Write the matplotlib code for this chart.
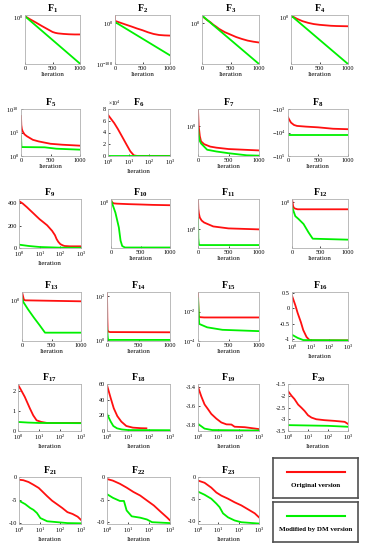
import matplotlib.pyplot as plt
import numpy as np

plt.rcParams['font.family'] = 'Liberation Serif'
plt.rcParams['mathtext.fontset'] = 'custom'
plt.rcParams['mathtext.rm'] = 'Liberation Serif'
plt.rcParams['mathtext.bf'] = 'Liberation Serif:bold'
plt.rcParams['mathtext.it'] = 'Liberation Serif:italic'

RED = '#ff1010'
GREEN = '#00f000'

# ---- data -----------------------------------------------------------------
# log-y panels: values are log10 of the fitness
f1_xr = [0, 100, 200, 300, 400, 500, 550, 600, 700, 800, 900, 1000]
f1_r = [3, -15, -32, -50, -67, -84, -89, -92, -95, -97, -98, -98]
f1_xg = [0, 1000]
f1_g = [3, -260]

f2_xr = [0, 0, 5, 100, 200, 300, 400, 500, 600, 650, 700, 800, 900, 1000]
f2_r = [19, 4.7, 4.5, 0.1, -4.5, -9, -13.8, -18, -23, -25, -27, -29.5, -30.5, -31]
f2_xg = [0, 1000]
f2_g = [2, -79]

f3_xr = [0, 50, 100, 150, 200, 250, 300, 400, 500, 600, 700, 800, 900, 1000]
f3_r = [27, 18, 10, 3, -6, -13, -21, -33, -42, -51, -58, -64, -68, -71]
f3_xg = [0, 1000]
f3_g = [28, -150]

f4_xr = [0, 100, 200, 300, 400, 500, 600, 700, 800, 1000]
f4_r = [8, -5, -15, -22, -27, -30, -32, -34, -35, -36]
f4_xg = [0, 1000]
f4_g = [8, -190]

f5_xr = [0, 5, 15, 30, 60, 100, 200, 300, 500, 700, 1000]
f5_r = [8.5, 6.6, 5.7, 5.2, 4.6, 4.2, 3.45, 3.1, 2.6, 2.4, 2.2]
f5_xg = [0, 8, 400, 500, 600, 1000]
f5_g = [4.2, 1.9, 1.85, 1.7, 1.55, 1.35]

f6_xr = [1, 2, 3, 5, 8, 12, 18, 25, 1000]
f6_r = [70000, 56000, 46000, 32000, 19000, 8000, 1000, 200, 200]
f6_xg = [1, 1000]
f6_g = [200, 200]

f7_xr = [0, 10, 30, 50, 100, 200, 300, 500, 750, 1000]
f7_r = [0.5, 0.03, -0.28, -0.43, -0.51, -0.58, -0.61, -0.65, -0.67, -0.69]
f7_xg = [0, 10, 30, 50, 150, 300, 500, 800, 1000]
f7_g = [-0.05, -0.24, -0.42, -0.49, -0.67, -0.72, -0.77, -0.83, -0.84]

# F8 is negative: log10 of |f|
f8_xr = [0, 20, 50, 100, 150, 300, 500, 750, 1000]
f8_r = [3.35, 3.45, 3.58, 3.68, 3.72, 3.75, 3.78, 3.84, 3.86]
f8_xg = [0, 1000]
f8_g = [4.1, 4.1]

f9_xr = [1, 1.5, 2.4, 3.5, 5, 7, 10, 15, 23, 30, 40, 55, 66, 80, 100, 130, 160, 300, 1000]
f9_r = [421, 400, 367, 338, 311, 285, 258, 232, 204, 180, 154, 115, 80, 55, 35, 24, 18, 15, 15]
f9_xg = [1, 3, 10, 100, 1000]
f9_g = [30, 18, 9, 3, 2]

f10_xr = [0, 10, 30, 100, 300, 500, 700, 1000]
f10_r = [3, 0.5, -1.35, -1.75, -2.25, -2.6, -3.0, -3.35]
f10_xg = [0, 17, 75, 133, 162, 190, 237, 1000]
f10_g = [1.5, -1, -11, -26, -39.5, -45, -46.5, -46.5]

f11_xr = [0, 5, 15, 30, 60, 100, 250, 500, 750, 1000]
f11_r = [6.1, 4.1, 3.1, 2.3, 1.7, 1.3, 0.5, 0.1, 0.0, -0.1]
f11_xg = [0, 5, 15, 30, 1000]
f11_g = [2.3, -1.9, -3.2, -3.3, -3.3]

f12_xr = [0, 20, 40, 100, 1000]
f12_r = [3, -4.5, -6.5, -7.5, -7.5]
f12_xg = [0, 59, 118, 206, 294, 370, 1000]
f12_g = [-5, -14.5, -17.5, -22.5, -31, -37.5, -38.5]

f13_xr = [0, 30, 50, 1000]
f13_r = [8, 0.5, -0.5, -1.5]
f13_xg = [0, 20, 100, 200, 300, 390, 1000]
f13_g = [2, -2, -9.5, -18, -26, -33.5, -33.5]

f14_xr = [0, 5, 10, 20, 50, 1000]
f14_r = [2.2, 1.0, 0.45, 0.38, 0.36, 0.35]
f14_xg = [0, 15, 30, 1000]
f14_g = [0.55, 0.02, 0.0, 0.0]

f15_xr = [0, 10, 30, 100, 1000]
f15_r = [-0.67, -2.29, -2.38, -2.4, -2.4]
f15_xg = [0, 20, 150, 400, 1000]
f15_g = [-1.11, -2.84, -3.07, -3.24, -3.33]

f16_xr = [1, 1.5, 2, 3, 4, 6, 8, 10, 1000]
f16_r = [0.4, 0.1, -0.15, -0.45, -0.7, -0.92, -1.0, -1.03, -1.03]
f16_xg = [1, 2, 4, 1000]
f16_g = [-0.85, -0.95, -1.02, -1.03]

f17_xr = [1, 1.3, 2.1, 3.7, 5.3, 7.7, 13, 24, 100, 1000]
f17_r = [2.3, 2.1, 1.7, 1.12, 0.78, 0.53, 0.45, 0.4, 0.4, 0.4]
f17_xg = [1, 3, 10, 1000]
f17_g = [0.45, 0.42, 0.4, 0.39]

f18_xr = [1, 1.5, 2.1, 3.1, 4.8, 8.3, 17, 40, 75]
f18_r = [58.5, 42, 29, 19, 12, 6.4, 4.3, 3.6, 3.4]
f18_xg = [1, 1.5, 2, 3, 5, 10, 1000]
f18_g = [21.7, 12, 6.4, 3.4, 2, 1.2, 1.0]

f19_xr = [1, 1.45, 2.1, 3.1, 4.5, 8, 14, 25, 44, 63, 200, 1000]
f19_r = [-3.4, -3.5, -3.585, -3.635, -3.685, -3.735, -3.775, -3.795, -3.797, -3.82, -3.825, -3.845]
f19_xg = [1, 2.1, 5, 1000]
f19_g = [-3.79, -3.84, -3.855, -3.86]

f20_xr = [1, 1.5, 2.1, 3.2, 4.7, 6.8, 10, 15, 26, 68, 215, 680, 1000]
f20_r = [-1.8, -2.0, -2.14, -2.375, -2.51, -2.65, -2.83, -2.93, -3.0, -3.04, -3.07, -3.11, -3.2]
f20_xg = [1, 100, 1000]
f20_g = [-3.25, -3.28, -3.32]

f21_xr = [1, 1.6, 2.9, 5, 9, 13, 23, 40, 71, 125, 220, 390, 690, 1000]
f21_r = [-0.6, -0.7, -1.1, -1.7, -2.4, -3.1, -4.2, -5.2, -6.0, -6.8, -7.7, -8.1, -8.7, -9.4]
f21_xg = [1, 2, 3.5, 5, 7.4, 10.8, 23, 71, 220, 1000]
f21_g = [-5.2, -5.95, -6.8, -7.2, -7.9, -9.0, -9.7, -9.9, -10.1, -10.15]

f22_xr = [1, 1.9, 4.1, 8.6, 18, 38, 80, 170, 360, 740, 1000]
f22_r = [-0.45, -0.8, -1.5, -2.35, -3.3, -4.1, -5.2, -6.3, -7.7, -9.0, -9.6]
f22_xg = [1, 1.9, 4.1, 6.4, 8.6, 15, 38, 80, 140, 1000]
f22_g = [-3.8, -4.6, -5.3, -5.3, -7.4, -8.7, -9.0, -9.4, -10.0, -10.2]

f23_xr = [1, 2.1, 4.5, 8, 14, 30, 63, 135, 290, 620, 1000]
f23_r = [-0.8, -1.3, -2.4, -3.5, -4.2, -4.9, -5.7, -6.4, -7.3, -8.2, -9.1]
f23_xg = [1, 2.1, 4.5, 8, 11.5, 17, 30, 63, 135, 1000]
f23_g = [-3.3, -4.0, -4.9, -6.0, -6.8, -8.2, -9.1, -9.8, -10.2, -10.5]

legend_labels = ['Original version', 'Modified by DM version']

# (data, xlog, ymode, ylim, yticks, yticklabels)
# ymode: 'lin', 'log' (values are log10), 'neglog' (values are log10|f|, f<0)
lin_ticks = [0, 500, 1000]
panels = [
    (f1_xr, f1_r, f1_xg, f1_g, False, 'log', (-262, 10), [0], None),
    (f2_xr, f2_r, f2_xg, f2_g, False, 'log', (-100, 19), [-100, 0], None),
    (f3_xr, f3_r, f3_xg, f3_g, False, 'log', (-150, 30), [0], None),
    (f4_xr, f4_r, f4_xg, f4_g, False, 'log', (-190, 10), [0], None),
    (f5_xr, f5_r, f5_xg, f5_g, False, 'log', (0, 10), [0, 5, 10], None),
    (f6_xr, f6_r, f6_xg, f6_g, True, 'lin', (0, 80000), [0, 20000, 40000, 60000, 80000], ['0', '2', '4', '6', '8']),
    (f7_xr, f7_r, f7_xg, f7_g, False, 'log', (-0.85, 0.5), [0], None),
    (f8_xr, f8_r, f8_xg, f8_g, False, 'neglog', (3, 5), [3, 4, 5], None),
    (f9_xr, f9_r, f9_xg, f9_g, True, 'lin', (0, 440), [0, 200, 400], None),
    (f10_xr, f10_r, f10_xg, f10_g, False, 'log', (-47, 3), [0], None),
    (f11_xr, f11_r, f11_xg, f11_g, False, 'log', (-3.9, 6.1), [0], None),
    (f12_xr, f12_r, f12_xg, f12_g, False, 'log', (-47, 3), [0], None),
    (f13_xr, f13_r, f13_xg, f13_g, False, 'log', (-42, 8), [0], None),
    (f14_xr, f14_r, f14_xg, f14_g, False, 'log', (-0.05, 2.2), [0, 2], None),
    (f15_xr, f15_r, f15_xg, f15_g, False, 'log', (-4, -0.67), [-4, -2], None),
    (f16_xr, f16_r, f16_xg, f16_g, True, 'lin', (-1.05, 0.52), [-1, -0.5, 0, 0.5], None),
    (f17_xr, f17_r, f17_xg, f17_g, True, 'lin', (0, 2.34), [0, 1, 2], None),
    (f18_xr, f18_r, f18_xg, f18_g, True, 'lin', (0, 60), [0, 20, 40, 60], None),
    (f19_xr, f19_r, f19_xg, f19_g, True, 'lin', (-3.865, -3.37), [-3.8, -3.6, -3.4], None),
    (f20_xr, f20_r, f20_xg, f20_g, True, 'lin', (-3.5, -1.5), [-3.5, -3, -2.5, -2, -1.5], None),
    (f21_xr, f21_r, f21_xg, f21_g, True, 'lin', (-10.3, 0), [-10, -5, 0], None),
    (f22_xr, f22_r, f22_xg, f22_g, True, 'lin', (-10.4, 0), [-10, -5, 0], None),
    (f23_xr, f23_r, f23_xg, f23_g, True, 'lin', (-10.6, 0), [-10, -5, 0], None),
]

# pixel boxes (left, right) per row, and (top, bottom) per row
W, H = 375, 550
col_lr = [
    [(25, 80), (115, 170), (202, 259), (291, 348)],
    [(21, 80), (108, 170), (198, 259), (288, 348)],
    [(19, 81), (111, 170), (198, 259), (292, 348)],
    [(22, 81), (107, 170), (198, 259), (292, 348)],
    [(18, 81), (107, 170), (198, 259), (288, 348)],
    [(19, 81), (107, 170), (198, 259)],
]
row_tb = [(15, 64), (109, 156), (199, 248), (292, 341), (384, 431), (477, 524)]


def pbox(l, r, t, b):
    return [l / W, 1 - b / H, (r - l) / W, (b - t) / H]


fig = plt.figure(figsize=(3.75, 5.5), dpi=100)
fs = 4.5

for i, (xr, yr, xg, yg, xlog, ymode, ylim, yt, ytl) in enumerate(panels):
    row, col = divmod(i, 4)
    l, r = col_lr[row][col]
    t, b = row_tb[row]
    ax = fig.add_axes(pbox(l, r, t, b))
    yr = np.array(yr, dtype=float)
    yg = np.array(yg, dtype=float)
    if ymode == 'lin':
        ax.plot(xr, yr, color=RED, lw=1.3)
        ax.plot(xg, yg, color=GREEN, lw=1.3)
        ax.set_ylim(*ylim)
        ax.set_yticks(yt, ytl if ytl else [f'{v:g}' for v in yt])
    else:
        ax.set_yscale('log')
        ax.plot(xr, 10.0 ** yr, color=RED, lw=1.3)
        ax.plot(xg, 10.0 ** yg, color=GREEN, lw=1.3)
        if ymode == 'neglog':
            ax.set_ylim(10.0 ** ylim[1], 10.0 ** ylim[0])
            ax.set_yticks([10.0 ** v for v in yt], [f'$-10^{{{v}}}$' for v in yt])
        else:
            ax.set_ylim(10.0 ** ylim[0], 10.0 ** ylim[1])
            ax.set_yticks([10.0 ** v for v in yt], [f'$10^{{{v}}}$' for v in yt])
        ax.yaxis.set_minor_locator(plt.NullLocator())
    if xlog:
        ax.set_xscale('log')
        ax.set_xlim(1, 1000)
        ax.set_xticks([1, 10, 100, 1000], ['$10^{0}$', '$10^{1}$', '$10^{2}$', '$10^{3}$'])
        ax.xaxis.set_minor_locator(plt.NullLocator())
    else:
        ax.set_xlim(0, 1000)
        ax.set_xticks(lin_ticks, [str(v) for v in lin_ticks])
    if i == 5:
        ax.text(0.0, 1.02, r'$\times10^{4}$', transform=ax.transAxes,
                fontsize=fs - 0.5, va='bottom', ha='left')
    ax.tick_params(labelsize=fs, direction='in', length=1.5, width=0.5, pad=1.5)
    for s in ax.spines.values():
        s.set_color('#b0b0b0')
        s.set_linewidth(0.6)
    ax.set_xlabel('Iteration', fontsize=5, labelpad=1)
    ax.set_title(rf'$\mathbf{{F_{{{i + 1}}}}}$', fontsize=7, pad=2)

# legend boxes
for k, (lab, colr) in enumerate(zip(legend_labels, [RED, GREEN])):
    t = 458 + 44 * k
    lax = fig.add_axes(pbox(273, 358, t, t + 40))
    lax.set_xlim(0, 1)
    lax.set_ylim(0, 1)
    lax.set_xticks([])
    lax.set_yticks([])
    for s in lax.spines.values():
        s.set_color('#505050')
        s.set_linewidth(1.2)
    lax.plot([0.17, 0.85], [0.65, 0.65], color=colr, lw=1.5)
    lax.text(0.5, 0.3, lab, ha='center', va='center', fontsize=5, fontweight='bold')

fig.savefig('out.png', dpi=100)
